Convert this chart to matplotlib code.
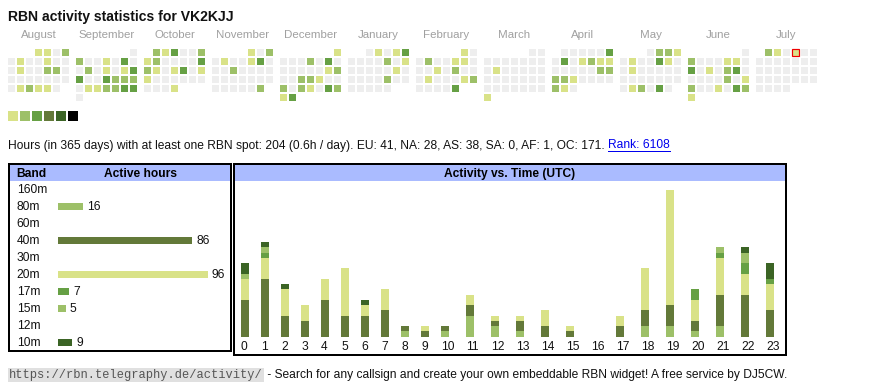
import datetime as dt
import numpy as np
import matplotlib
matplotlib.use('Agg')
import matplotlib.pyplot as plt
from matplotlib.patches import Rectangle
import matplotlib.transforms as mtransforms

plt.rcParams['font.family'] = ['Liberation Sans', 'DejaVu Sans']

# ---------------- data ----------------
callsign = 'VK2KJJ'
month_names = ['August', 'September', 'October', 'November', 'December', 'January',
               'February', 'March', 'April', 'May', 'June', 'July']
month_keys = [(2024, 8), (2024, 9), (2024, 10), (2024, 11), (2024, 12), (2025, 1),
              (2025, 2), (2025, 3), (2025, 4), (2025, 5), (2025, 6), (2025, 7)]
today = (2025, 7, 4)

# activity level per day (0 = none)
lv_aug = [1, 1, 0, 2, 0, 1, 0, 0, 1, 0, 0, 0, 1, 0, 0, 2, 2, 0, 0, 0, 0, 0, 0, 0, 0, 0, 1, 2, 1, 1, 0]
lv_sep = [0, 2, 0, 0, 1, 0, 3, 0, 0, 2, 0, 1, 0, 1, 3, 3, 0, 0, 3, 2, 2, 2, 0, 1, 1, 2, 2, 3, 3, 0]
lv_oct = [2, 1, 3, 0, 0, 2, 1, 2, 0, 0, 0, 0, 3, 2, 1, 0, 1, 3, 0, 1, 1, 0, 0, 0, 0, 0, 0, 0, 0, 0, 1]
lv_nov = [1, 0, 2, 0, 1, 0, 0, 1, 3, 0, 0, 0, 2, 0, 0, 0, 0, 0, 0, 0, 0, 0, 0, 0, 0, 0, 0, 0, 0, 2]
lv_dec = [1, 0, 0, 0, 2, 0, 3, 0, 0, 0, 0, 0, 0, 1, 2, 0, 0, 2, 2, 1, 0, 0, 2, 0, 2, 1, 0, 3, 2, 1, 3]
lv_jan = [0, 1, 0, 1, 3, 0, 0, 0, 0, 2, 0, 1, 0, 0, 0, 0, 0, 1, 0, 0, 0, 0, 0, 2, 0, 0, 0, 0, 0, 0, 0]
lv_feb = [1, 0, 0, 2, 0, 0, 1, 1, 0, 0, 0, 1, 0, 2, 0, 0, 0, 1, 0, 0, 0, 1, 2, 0, 0, 0, 0, 3]
lv_mar = [0, 0, 0, 0, 0, 0, 0, 0, 0, 0, 1, 0, 0, 0, 0, 0, 0, 0, 0, 0, 0, 0, 0, 0, 0, 0, 0, 0, 0, 0, 1]
lv_apr = [0, 0, 0, 0, 0, 3, 0, 3, 0, 1, 2, 1, 1, 0, 0, 0, 0, 0, 2, 2, 2, 2, 1, 0, 0, 0, 0, 2, 1, 0]
lv_may = [0, 2, 2, 1, 0, 1, 0, 0, 3, 1, 0, 0, 1, 0, 0, 0, 0, 0, 0, 0, 0, 0, 0, 0, 0, 0, 1, 2, 0, 3, 0]
lv_jun = [0, 2, 0, 0, 0, 1, 1, 0, 3, 0, 1, 0, 2, 3, 0, 0, 0, 0, 0, 2, 0, 1, 2, 0, 0, 1, 0, 3, 2, 1]
lv_jul = [2, 1, 0, 1, 0, 0, 0, 0, 0, 0, 0, 0, 0, 0, 0, 0, 0, 0, 0, 0, 0, 0, 0, 0, 0, 0, 0, 0, 0, 0, 0]
month_levels = [lv_aug, lv_sep, lv_oct, lv_nov, lv_dec, lv_jan,
                lv_feb, lv_mar, lv_apr, lv_may, lv_jun, lv_jul]
level_colors = ['#eeeeee', '#d9e288', '#9dc068', '#66a044', '#637939', '#3b6425', '#000000']

# summary line
days_span = 365
active_hours = 204
per_day = 0.6
continents = ['EU', 'NA', 'AS', 'SA', 'AF', 'OC']
continent_hours = [41, 28, 38, 0, 1, 171]
rank = 6108

# band table
bands = ['160m', '80m', '60m', '40m', '30m', '20m', '17m', '15m', '12m', '10m']
band_hours = [0, 16, 0, 86, 0, 96, 7, 5, 0, 9]
band_colors = ['#3b6425', '#9dc068', '#66a044', '#637939', '#3b6425',
               '#d9e288', '#66a044', '#9dc068', '#637939', '#3b6425']

# activity vs time (hours UTC), stacked bottom -> top
hours_utc = list(range(24))
act_80m = [0, 0, 0, 0, 0, 0, 0, 0, 1, 0, 1, 4, 2, 1, 0, 0, 0, 0, 2, 2, 1, 2, 0, 0]
act_40m = [7, 11, 4, 3, 7, 4, 4, 5, 1, 1, 1, 2, 1, 2, 2, 1, 0, 2, 3, 4, 2, 6, 8, 5]
act_20m = [4, 4, 5, 3, 4, 9, 2, 4, 0, 1, 0, 2, 1, 1, 3, 1, 0, 2, 8, 22, 4, 7, 4, 5]
act_17m = [0, 1, 0, 0, 0, 0, 0, 0, 0, 0, 0, 0, 0, 0, 0, 0, 0, 0, 0, 0, 2, 1, 2, 1]
act_15m = [1, 1, 0, 0, 0, 0, 0, 0, 0, 0, 0, 0, 0, 0, 0, 0, 0, 0, 0, 0, 0, 1, 2, 0]
act_10m = [2, 1, 1, 0, 0, 0, 1, 0, 0, 0, 0, 0, 0, 0, 0, 0, 0, 0, 0, 0, 0, 0, 1, 3]
stack_series = [act_80m, act_40m, act_20m, act_17m, act_15m, act_10m]
stack_colors = ['#9dc068', '#637939', '#d9e288', '#66a044', '#9dc068', '#3b6425']

footer_url = 'https://rbn.telegraphy.de/activity/'
footer_text = ' - Search for any callsign and create your own embeddable RBN widget! A free service by DJ5CW.'

# ---------------- layout ----------------
W, H = 870, 390
PX = 72 / 100.0  # points per pixel
fig = plt.figure(figsize=(W / 100, H / 100), dpi=100)
fig.patch.set_facecolor('white')


def px_axes(x0, y0, x1, y1):
    ax = fig.add_axes([x0 / W, 1 - y1 / H, (x1 - x0) / W, (y1 - y0) / H])
    ax.set_facecolor('none')
    return ax


base = px_axes(0, 0, W, H)
base.set_xlim(0, W)
base.set_ylim(H, 0)
base.axis('off')

FS = 12 * PX
HEAD_BLUE = '#aabbff'

# title
base.text(8, 21, f'RBN activity statistics for {callsign}', fontsize=14 * PX,
          fontweight='bold', color='#111111', va='baseline', ha='left')

# calendar
CAL_X0, CAL_Y0, BLOCK, PITCH, CELL = 8, 49, 68, 9, 7
for m, ((yr, mo), lv, name) in enumerate(zip(month_keys, month_levels, month_names)):
    first_wd = dt.date(yr, mo, 1).weekday()
    bx = CAL_X0 + m * BLOCK
    base.text(bx + (7 * PITCH - 2) / 2, 38.5, name, fontsize=11.5 * PX, color='#a0a0a0',
              ha='center', va='baseline')
    for d, level in enumerate(lv):
        idx = first_wd + d
        col, row = idx % 7, idx // 7
        x = bx + col * PITCH
        y = CAL_Y0 + row * PITCH
        base.add_patch(Rectangle((x, y), CELL, CELL, facecolor=level_colors[level],
                                 edgecolor='none', lw=0))
        if (yr, mo, d + 1) == today:
            base.add_patch(Rectangle((x + 0.5, y + 0.2), CELL, CELL, facecolor='none',
                                     edgecolor='#ee0000', lw=1.2 * PX))

# legend squares
for k, c in enumerate(level_colors[1:]):
    base.add_patch(Rectangle((8 + 12 * k, 111), 10, 10, facecolor=c, edgecolor='none'))

# summary line
cont_txt = ', '.join(f'{c}: {v}' for c, v in zip(continents, continent_hours))
summary = (f'Hours (in {days_span} days) with at least one RBN spot: {active_hours} '
           f'({per_day}h / day). {cont_txt}.')
t_sum = base.text(8, 148.5, summary, fontsize=FS, color='#111111', va='baseline', ha='left')

# footer
t_url = base.text(9, 378, footer_url, fontsize=12 * PX, family='Liberation Mono',
                  color='#555555', va='baseline', ha='left',
                  bbox=dict(boxstyle='square,pad=0.1', facecolor='#e0e0e0', edgecolor='none'))

fig.canvas.draw()
rend = fig.canvas.get_renderer()
inv = base.transData.inverted()
bb = t_sum.get_window_extent(rend)
x_end = inv.transform((bb.x1, bb.y0))[0]
rank_x = x_end + 3.5
t_rank = base.text(rank_x, 148.5, f'Rank: {rank}', fontsize=FS, color='#0000ee',
                   va='baseline', ha='left')
fig.canvas.draw()
bbr = t_rank.get_window_extent(rend)
rx1 = inv.transform((bbr.x1, bbr.y0))[0]
base.plot([rank_x, rx1], [150.5, 150.5], color='#0000ee', lw=1 * PX)

bbu = t_url.get_bbox_patch().get_window_extent(rend)
ux1 = inv.transform((bbu.x1, bbu.y0))[0]
base.text(ux1, 378, footer_text, fontsize=FS, color='#111111', va='baseline', ha='left')

# table headers & frames
base.add_patch(Rectangle((10, 165), 221, 16, facecolor=HEAD_BLUE, edgecolor='none'))
base.add_patch(Rectangle((235, 165), 550, 16, facecolor=HEAD_BLUE, edgecolor='none'))
base.add_patch(Rectangle((9, 164), 222.5, 187, facecolor='none', edgecolor='black', lw=2 * PX))
base.add_patch(Rectangle((234, 164), 552, 190.5, facecolor='none', edgecolor='black', lw=2 * PX))
base.text(16.7, 177.3, 'Band', fontsize=FS, fontweight='bold', va='baseline', ha='left')
base.text(141, 177.3, 'Active hours', fontsize=FS, fontweight='bold', va='baseline', ha='center')
base.text(510, 177.3, 'Activity vs. Time (UTC)', fontsize=FS, fontweight='bold',
          va='baseline', ha='center')

# band table rows
for i, b in enumerate(bands):
    base.text(16.7, 193.3 + 17 * i, b, fontsize=FS, color='#111111', va='baseline', ha='left')

BAR_SCALE = 150 / max(band_hours)
ax_band = px_axes(58, 181, 230, 351)
ax_band.set_xlim(0, 172 / BAR_SCALE)
ax_band.set_ylim(len(bands) - 0.5, -0.5)
ax_band.axis('off')
ax_band.barh(range(len(bands)), band_hours, height=7 / 17, color=band_colors, lw=0)
lbl_tr = mtransforms.offset_copy(
    mtransforms.blended_transform_factory(ax_band.transData, base.transData),
    fig=fig, x=4, y=0, units='dots')
for i, v in enumerate(band_hours):
    if v > 0:
        ax_band.text(v, 193.3 + 17 * i, str(v), transform=lbl_tr, fontsize=FS,
                     color='#111111', va='baseline', ha='left')

# activity vs time
UNIT_PX = 5.25
ax_act = px_axes(235, 181, 785, 336.7)
ax_act.set_xlim(235, 785)
ax_act.set_ylim(0, (336.7 - 181) / UNIT_PX)
ax_act.axis('off')
cell_w = [20 if len(str(h)) == 1 else 25 for h in hours_utc]
lefts = 241 + np.concatenate([[0], np.cumsum(cell_w)[:-1]])
bottom = np.zeros(len(hours_utc))
for s, c in zip(stack_series, stack_colors):
    ax_act.bar(lefts, s, width=8, bottom=bottom, align='edge', color=c, lw=0)
    bottom += np.array(s)
hr_tr = mtransforms.blended_transform_factory(ax_act.transData, base.transData)
for x, h in zip(lefts, hours_utc):
    ax_act.text(x, 350, str(h), transform=hr_tr, fontsize=FS, color='#111111',
                va='baseline', ha='left', clip_on=False)

fig.savefig('out.png', dpi=100, facecolor='white')
